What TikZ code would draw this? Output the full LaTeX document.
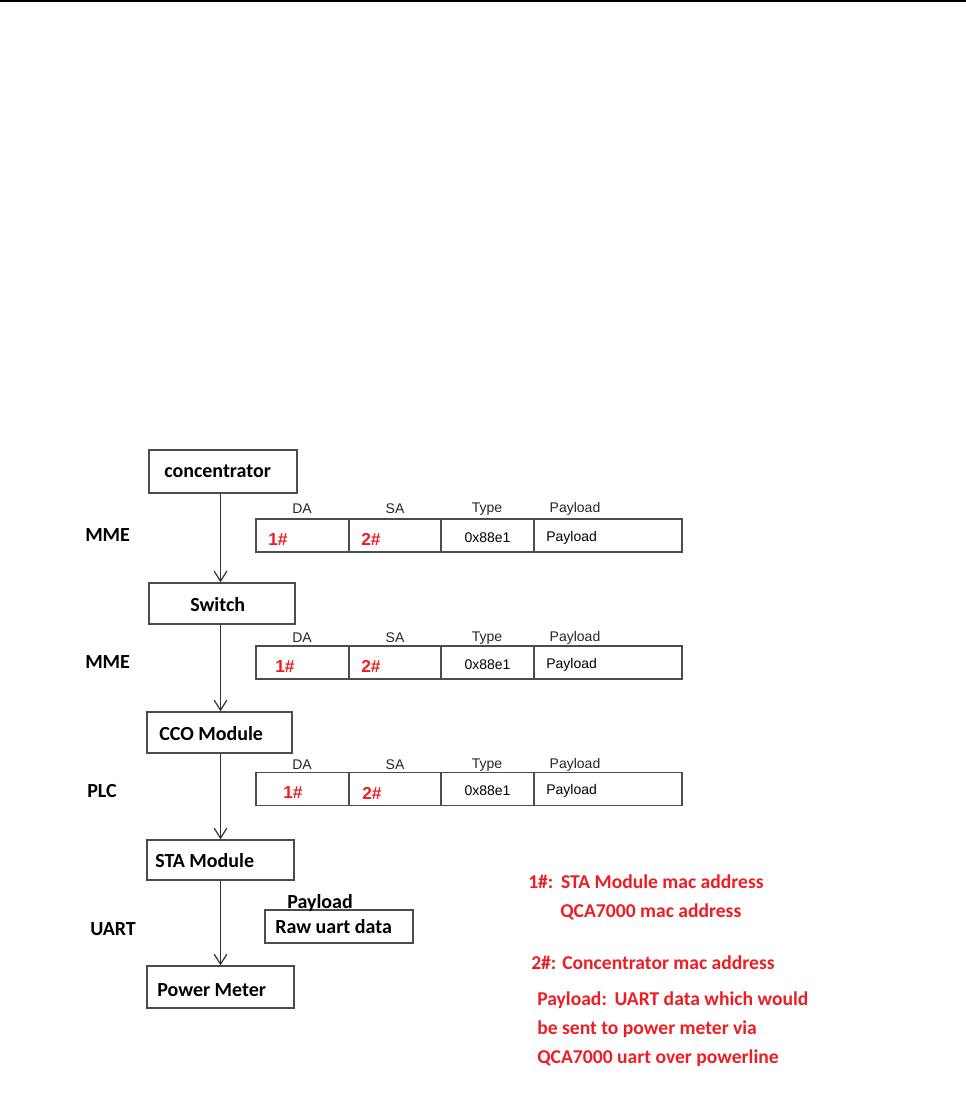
\documentclass[tikz,border=0pt]{standalone}
\usepackage{fontspec}
\setmainfont{Carlito}
\newfontfamily\arialf{Liberation Sans}
\usetikzlibrary{arrows.meta}
\definecolor{redtxt}{RGB}{236,30,36}
\definecolor{boxline}{gray}{0.3}
\tikzset{
  box/.style={draw=boxline, line width=1.1pt, inner sep=0pt},
  boxtxt/.style={anchor=west, inner sep=0pt, font=\fontsize{15}{18}\selectfont\bfseries, text=black},
  sidelbl/.style={anchor=west, inner sep=0pt, font=\fontsize{15}{18}\selectfont\bfseries},
  cell/.style={draw=boxline, line width=1.1pt, inner sep=0pt, minimum height=33*0.75pt},
  hdr/.style={inner sep=0pt, font=\arialf\fontsize{10.5}{12}\selectfont, text=black!85},
  celltxt/.style={inner sep=0pt, font=\arialf\fontsize{10.5}{12}\selectfont},
  hash/.style={anchor=west, inner sep=0pt, font=\arialf\fontsize{13}{15}\selectfont\bfseries, text=redtxt},
  note/.style={anchor=west, inner sep=0pt, font=\fontsize{14.7}{18}\selectfont\bfseries, text=redtxt},
  arr/.style={draw=black!80, line width=0.9pt, -{Straight Barb[length=7.5pt,width=9.5pt,line width=0.9pt]}}
}
\begin{document}
\begin{tikzpicture}[x=0.75pt,y=-0.75pt]
\useasboundingbox (0,0) rectangle (966,1116);
\fill[black] (0,0) rectangle (966,2);

% main boxes
\node[box, minimum width=148*0.75pt, minimum height=43*0.75pt] (conc) at (223,471.5) {};
\node[box, minimum width=146*0.75pt, minimum height=41*0.75pt] (sw) at (222,603.5) {};
\node[box, minimum width=145*0.75pt, minimum height=41*0.75pt] (cco) at (219.5,732.5) {};
\node[box, minimum width=147*0.75pt, minimum height=40*0.75pt] (sta) at (220.5,860) {};
\node[box, minimum width=147*0.75pt, minimum height=42*0.75pt] (pm) at (220.5,987) {};

\node[boxtxt] (concT) at (164,471) {concentrator};
\node[boxtxt] (swT) at (190,605) {Switch};
\node[boxtxt] (ccoT) at (159,734) {CCO Module};
\node[boxtxt] (staT) at (155,861) {STA Module};
\node[boxtxt] (pmT) at (157,990) {Power Meter};

% arrows
\draw[arr] (conc.south -| sta.center) -- (sw.north -| sta.center);
\draw[arr] (sw.south -| sta.center) -- (cco.north -| sta.center);
\draw[arr] (cco.south -| sta.center) -- (sta.north);
\draw[arr] (sta.south) -- (pm.north);

% side labels
\node[sidelbl] (l1) at (85,535) {MME};
\node[sidelbl] (l2) at (85,662) {MME};
\node[sidelbl] (l3) at (87,791) {PLC};
\node[sidelbl] (l4) at (90,929) {UART};

% packet rows
\foreach \r/\yc/\yh/\ha/\hb in {1/535.5/509/268/361, 2/662.5/638/275/361, 3/789/765/283/362}{
  \node[cell, minimum width=93*0.75pt] (r\r a) at (302.5,\yc) {};
  \node[cell, minimum width=92*0.75pt] (r\r b) at (395,\yc) {};
  \node[cell, minimum width=93*0.75pt] (r\r c) at (487.5,\yc) {};
  \node[cell, minimum width=148*0.75pt] (r\r d) at (608,\yc) {};
  \node[hdr] (h\r a) at (302,\yh) {DA};
  \node[hdr] (h\r b) at (395,\yh) {SA};
  \node[hdr] (h\r c) at (487,\yh) {Type};
  \node[hdr] (h\r d) at (575,\yh) {Payload};
  \node[hash] (t\r a) at (\ha,\yc+4) {1\#};
  \node[hash] (t\r b) at (\hb,\yc+4) {2\#};
  \node[celltxt] (t\r c) at (487.5,\yc+2) {0x88e1};
  \node[celltxt, anchor=west] (t\r d) at (546,\yc+2) {Payload};
}

% raw uart box
\node[box, minimum width=148*0.75pt, minimum height=33*0.75pt] (raw) at (339,926.5) {};
\node[boxtxt] (rawP) at (287,903) {Payload};
\node[boxtxt] (rawT) at (275,927) {Raw uart data};

% notes
\node[note] (n1) at (528,882) {1\#:\ \,STA Module mac address};
\node[note] (n2) at (560,912) {QCA7000 mac address};
\node[note] (n3) at (531,963) {2\#: Concentrator mac address};
\node[note] (n4) at (537,1000) {Payload:\ \,UART data which would};
\node[note] (n5) at (537,1029) {be sent to power meter via};
\node[note] (n6) at (537,1058) {QCA7000 uart over powerline};
\end{tikzpicture}
\end{document}
